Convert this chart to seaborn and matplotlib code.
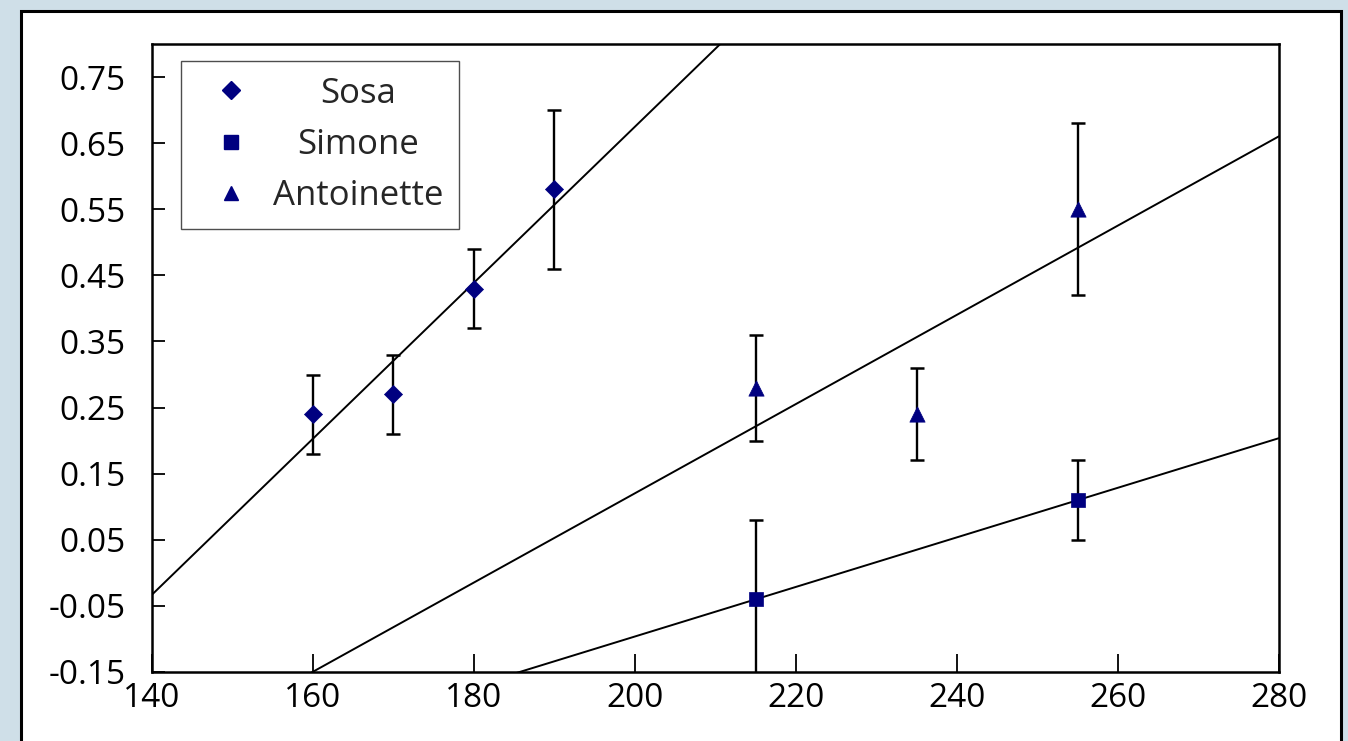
import numpy as np
import pandas as pd
import matplotlib
matplotlib.use("Agg")
import matplotlib.pyplot as plt
from matplotlib.patches import Rectangle
from matplotlib.lines import Line2D
from matplotlib.transforms import Affine2D
import seaborn as sns

# ---- data ----
sosa_x = [160, 170, 180, 190]
sosa_y = [0.24, 0.27, 0.43, 0.58]
sosa_err = [0.06, 0.06, 0.06, 0.12]

simone_x = [215, 255]
simone_y = [-0.04, 0.11]
simone_err = [0.12, 0.06]

antoinette_x = [215, 235, 255]
antoinette_y = [0.28, 0.24, 0.55]
antoinette_err = [0.08, 0.07, 0.13]

series_names = ["Sosa", "Simone", "Antoinette"]
x_ticks = [140, 160, 180, 200, 220, 240, 260, 280]
y_ticks = [-0.15, -0.05, 0.05, 0.15, 0.25, 0.35, 0.45, 0.55, 0.65, 0.75]

sns.set_style("ticks")
plt.rcParams["font.family"] = ["Open Sans", "DejaVu Sans"]

W, H = 1348, 741
fig = plt.figure(figsize=(W / 100, H / 100), dpi=100)
fig.patch.set_facecolor("#cfdfe8")

# white slide panel
panel = Rectangle((21 / W, -0.05), (1341 - 21) / W, (741 - 11) / H + 0.05,
                  transform=fig.transFigure, facecolor="white",
                  edgecolor="black", linewidth=2.2, zorder=-10)
fig.patches.append(panel)

ax = fig.add_axes([152 / W, 1 - 672 / H, (1279 - 152) / W, (672 - 44) / H])
ax.set_zorder(5)
ax.set_facecolor("white")
ax.set_xlim(140, 280)
ax.set_ylim(-0.15, 0.80)

navy = "#000080"
datasets = [
    (sosa_x, sosa_y, sosa_err, "D", 9.2),
    (simone_x, simone_y, simone_err, "s", 10.5),
    (antoinette_x, antoinette_y, antoinette_err, "^", 11),
]

handles = []
for (xs, ys, es, mk, ms), name in zip(datasets, series_names):
    df = pd.DataFrame({"x": xs, "y": ys})
    sns.regplot(data=df, x="x", y="y", ax=ax, scatter=False, ci=None,
                truncate=False, color="black", line_kws={"linewidth": 1.4, "zorder": 2})
    ax.errorbar(xs, ys, yerr=es, fmt="none", ecolor="black", elinewidth=1.7,
                capsize=5.2, capthick=1.8, zorder=3)
    sns.scatterplot(data=df, x="x", y="y", ax=ax, marker=mk, s=ms ** 2,
                    color=navy, edgecolor=navy, linewidth=0.5, zorder=4)
    handles.append(Line2D([], [], linestyle="none", marker=mk, markersize=ms * 0.95,
                          color=navy, markeredgecolor=navy))

ax.set_xlim(140, 280)
ax.set_ylim(-0.15, 0.80)
ax.set_xticks(x_ticks)
ax.set_yticks(y_ticks)
ax.set_xticklabels([str(v) for v in x_ticks])
ax.set_yticklabels([f"{v:.2f}" for v in y_ticks])
ax.set_xlabel("")
ax.set_ylabel("")

for s in ax.spines.values():
    s.set_visible(True)
    s.set_linewidth(1.8)
    s.set_color("black")

ax.tick_params(axis="x", direction="in", length=13, width=1.3, pad=7,
               labelsize=24, colors="black", top=False)
ax.tick_params(axis="y", direction="in", length=9.5, width=1.3, pad=19,
               labelsize=24, colors="black", right=False)

leg = ax.legend(handles, series_names, loc="upper left",
                bbox_to_anchor=(29 / 1127, (672 - 61) / 628), borderaxespad=0,
                fontsize=25, frameon=True, fancybox=False, shadow=False,
                handlelength=2.0, handletextpad=0.2, borderpad=0.45,
                labelspacing=0.5)
leg.get_frame().set_edgecolor("#222222")
leg.get_frame().set_linewidth(1.0)

# center the legend labels on a common axis
fig.canvas.draw()
texts = leg.get_texts()
widths = [t.get_window_extent().width for t in texts]
wmax = max(widths)
for t, w in zip(texts, widths):
    t.set_transform(t.get_transform() + Affine2D().translate((wmax - w) / 2, 0))

fig.savefig("out.png", dpi=100, facecolor=fig.get_facecolor())
